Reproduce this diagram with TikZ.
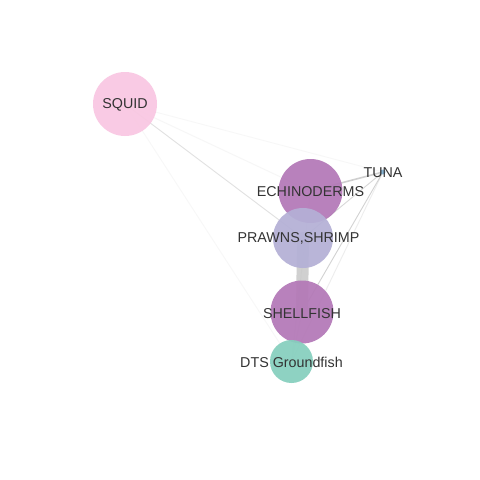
\documentclass[tikz,border=0pt]{standalone}
\usepackage{fontspec}
\setmainfont{Liberation Sans}
\definecolor{squidc}{HTML}{F9C7E2}
\definecolor{echic}{HTML}{B378B7}
\definecolor{prawnc}{HTML}{B4B0D6}
\definecolor{dtsc}{HTML}{86CFBE}
\definecolor{tunac}{HTML}{80B1D3}
\definecolor{edgec}{HTML}{C4C4C4}
\definecolor{txtc}{HTML}{333333}
\tikzset{
  bubble/.style={circle, inner sep=0pt, fill opacity=0.93, draw=none},
  lab/.style={text=txtc, font=\fontsize{14.3}{15}\selectfont, inner sep=0pt},
  edg/.style={draw=edgec, line width=0.9pt},
  faint/.style={edg, draw opacity=0.25},
  vfaint/.style={edg, draw opacity=0.12},
}
\begin{document}
\begin{tikzpicture}[x=1pt,y=-1pt]
\useasboundingbox (0,0) rectangle (480,480);
\fill[white] (0,0) rectangle (480,480);
\coordinate (squid) at (125,104);
\coordinate (echi) at (310.5,191);
\coordinate (prawn) at (303,238);
\coordinate (shell) at (302,312);
\coordinate (dts) at (291.5,361.5);
\coordinate (tuna) at (383,172);
% edges
\draw[vfaint] (squid) -- (tuna);
\draw[faint, draw opacity=0.15] (squid) -- (echi);
\draw[edg, draw opacity=0.5] (squid) -- (prawn);
\draw[vfaint] (squid) -- (dts);
\draw[edg, line width=1.6pt, draw opacity=0.8] (tuna) -- (echi);
\draw[edg, draw opacity=0.65] (tuna) -- (prawn);
\draw[edg, draw opacity=0.75] (tuna) -- (shell);
\draw[faint, draw opacity=0.3] (tuna) -- (dts);
\draw[edg, line width=12pt, draw=edgec!80, line cap=round] (prawn) -- (shell);
\draw[faint] (echi) -- (dts);
\draw[faint] (shell) -- (dts);
% nodes
\node[bubble, fill=squidc, minimum size=64pt] (nsquid) at (squid) {};
\node[bubble, fill=echic, minimum size=64pt] (nechi) at (echi) {};
\node[bubble, fill=prawnc, minimum size=60pt] (nprawn) at (prawn) {};
\node[bubble, fill=echic, minimum size=63pt] (nshell) at (shell) {};
\node[bubble, fill=dtsc, minimum size=43pt] (ndts) at (dts) {};
\node[bubble, fill=tunac, minimum size=5pt] (ntuna) at (tuna) {};
% labels
\node[lab] (lsquid) at (125,104.5) {SQUID};
\node[lab] (lechi) at (310.5,191.5) {ECHINODERMS};
\node[lab] (lprawn) at (298.5,238.5) {PRAWNS,SHRIMP};
\node[lab] (lshell) at (302,313.5) {SHELLFISH};
\node[lab] (ldts) at (291.5,362.5) {DTS Groundfish};
\node[lab] (ltuna) at (383,172.5) {TUNA};
\end{tikzpicture}
\end{document}
